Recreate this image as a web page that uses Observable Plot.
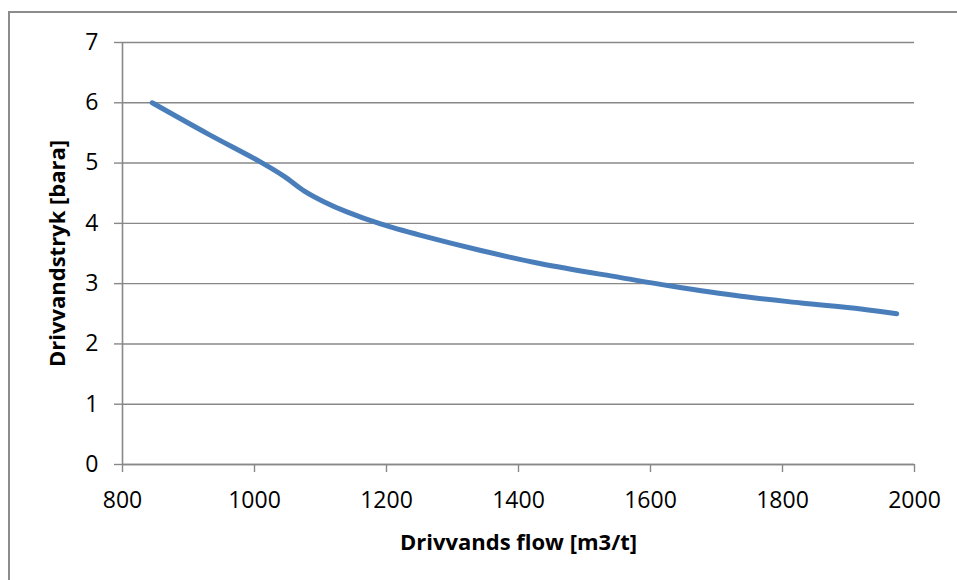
<!DOCTYPE html>
<html>
<head>
<meta charset="utf-8">
<script src="https://cdn.jsdelivr.net/npm/d3@7"></script>
<script src="https://cdn.jsdelivr.net/npm/@observablehq/plot@0.6"></script>
<style>
  html, body { margin: 0; padding: 0; background: #fff; overflow: hidden; width: 957px; height: 580px; }
  #frame { position: absolute; left: 8px; top: 11px; width: 2000px; height: 2000px;
           border-left: 2px solid #8c8c8c; border-top: 2px solid #8c8c8c; box-sizing: border-box; }
  #chart { position: absolute; left: 0; top: 0; }
</style>
</head>
<body>
<div id="frame"></div>
<div id="chart"></div>
<script>
// Drive water flow [m3/h] against drive water pressure [bar a]
const flow     = [845, 930, 1012, 1045, 1075, 1105, 1140, 1191, 1252, 1343, 1434, 1555, 1631, 1737, 1828, 1919, 1973];
const pressure = [6.0, 5.48, 5.0, 4.78, 4.54, 4.36, 4.19, 3.99, 3.80, 3.55, 3.33, 3.10, 2.96, 2.79, 2.68, 2.58, 2.50];

const xTicks = [800, 1000, 1200, 1400, 1600, 1800, 2000];
const yTicks = [0, 1, 2, 3, 4, 5, 6, 7];

const xTitle = "Drivvands flow [m3/t]";
const yTitle = "Drivvandstryk [bara]";

const rows = flow.map((f, i) => ({flow: f, pressure: pressure[i]}));

const gray = "#888888";

const chart = Plot.plot({
  width: 957,
  height: 580,
  marginLeft: 122,
  marginRight: 43,
  marginTop: 42,
  marginBottom: 116,
  style: {fontFamily: "'Open Sans', Lato, sans-serif", fontSize: "23px", color: "#000", background: "transparent", overflow: "visible"},
  x: {domain: [800, 2000]},
  y: {domain: [0, 7]},
  marks: [
    Plot.gridY(yTicks, {stroke: gray, strokeOpacity: 1, strokeWidth: 1.4}),
    Plot.axisY(yTicks, {
      anchor: "left", tickSize: 8, tickPadding: 16, stroke: gray, strokeWidth: 1.4,
      fill: "#000", tickFormat: d => String(d),
      label: yTitle, labelAnchor: "center", labelArrow: "none", labelOffset: 73
    }),
    Plot.axisX(xTicks, {
      anchor: "bottom", tickSize: 8, tickPadding: 19, stroke: gray, strokeWidth: 1.4,
      fill: "#000", tickFormat: d => String(d),
      label: xTitle, labelAnchor: "center", labelArrow: "none", labelOffset: 85
    }),
    Plot.ruleX([800], {stroke: gray, strokeWidth: 1.6}),
    Plot.ruleY([0], {stroke: gray, strokeWidth: 1.6}),
    Plot.line(rows, {x: "flow", y: "pressure", curve: "catmull-rom", stroke: "#4a7ebb", strokeWidth: 5, strokeLinecap: "round", strokeLinejoin: "round"})
  ]
});

// Tick labels and bold axis titles
d3.select(chart).selectAll("g[aria-label='y-axis tick label'] text, g[aria-label='x-axis tick label'] text")
  .style("font-size", "23px");
d3.select(chart).selectAll("g[aria-label='y-axis label'] text, g[aria-label='x-axis label'] text")
  .style("font-weight", "bold").style("font-size", "22px");

document.getElementById("chart").appendChild(chart);
</script>
</body>
</html>
